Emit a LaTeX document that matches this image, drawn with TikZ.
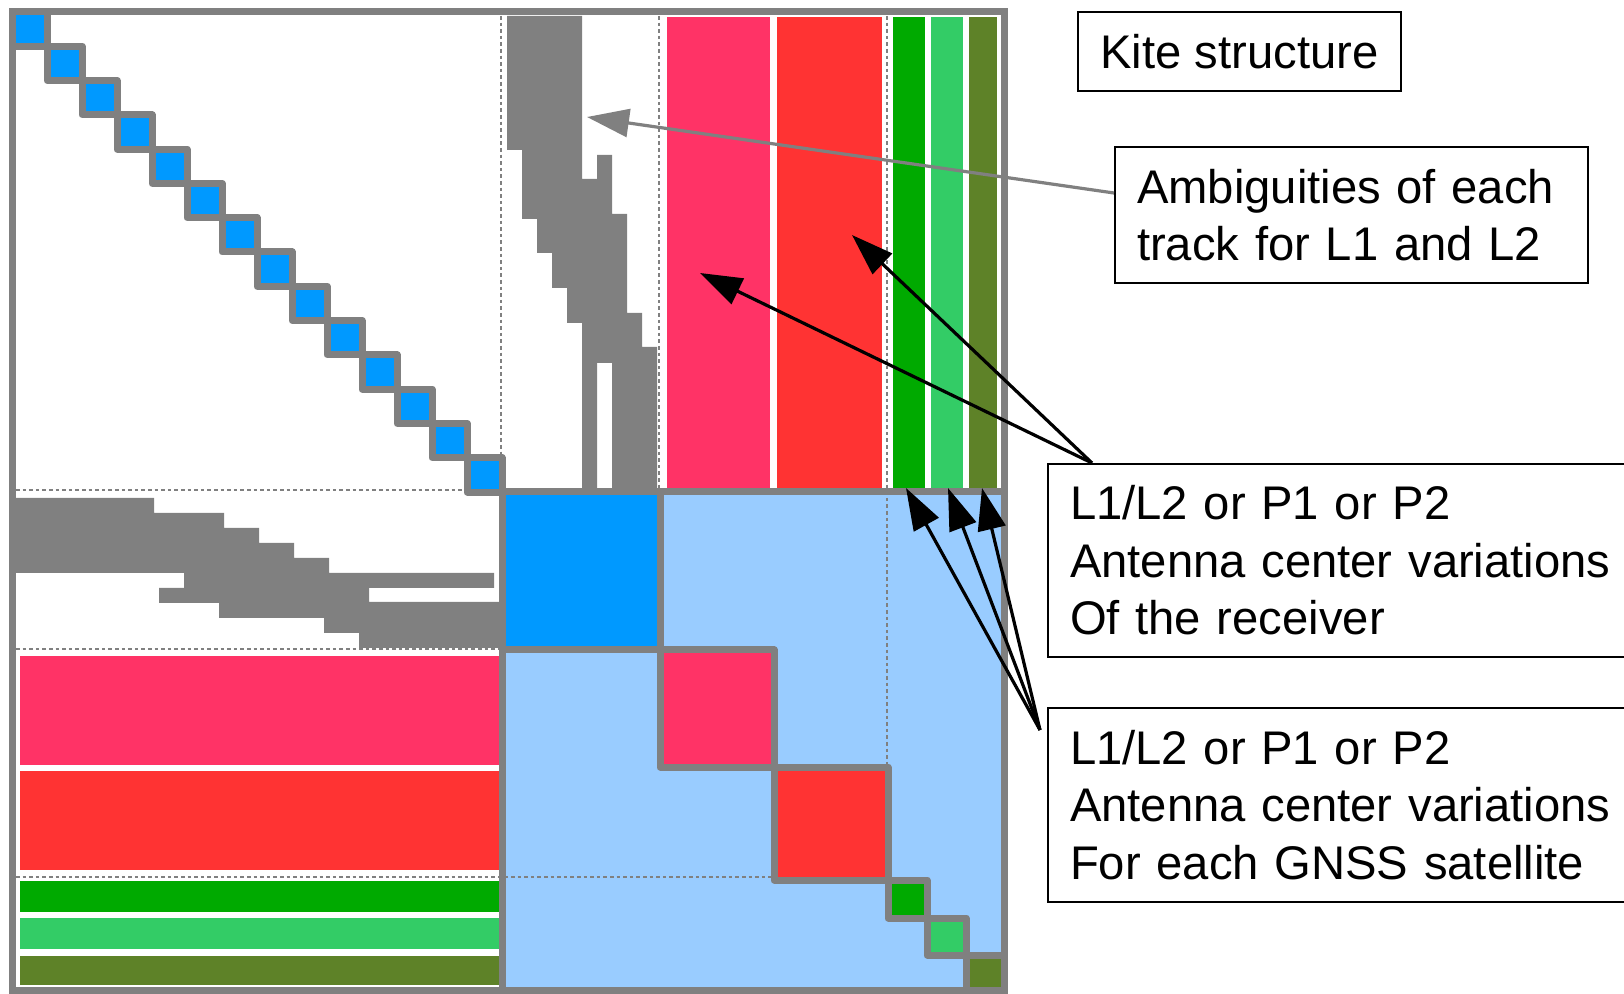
\documentclass[tikz,border=0pt]{standalone}
\usepackage{fontspec}
\setmainfont{Liberation Sans}
\usetikzlibrary{arrows.meta}
\definecolor{fgray}{HTML}{808080}
\definecolor{cblue}{HTML}{0099FF}
\definecolor{clblue}{HTML}{99CCFF}
\definecolor{cpink}{HTML}{FF3366}
\definecolor{cred}{HTML}{FF3333}
\definecolor{cgreen}{HTML}{00AA00}
\definecolor{clgreen}{HTML}{33CC66}
\definecolor{colive}{HTML}{5E8228}
\newcommand\lblfont{\fontsize{23.6pt}{28.75pt}\selectfont}
\begin{document}
\begin{tikzpicture}[x=0.5pt,y=-0.5pt,
  cell/.style={draw=fgray, line width=3.5pt, line join=round},
  band/.style={draw=white, line width=1pt},
  dotln/.style={draw=fgray, line width=1.2pt, dash pattern=on 1.8pt off 1.5pt},
  stair/.style={fill=fgray},
  lbl/.style={draw=black, line width=1pt, font=\lblfont, inner ysep=0pt, anchor=north west},
  arr/.style={line width=1.6pt, -{Triangle[length=21pt,width=14pt]}},
  garr/.style={draw=fgray, line width=1.6pt, -{Triangle[length=21pt,width=14pt]}}]
\useasboundingbox (0,0) rectangle (1624,994);
\clip (0,0) rectangle (1624,994);
\fill[white] (0,0) rectangle (1624,994);
\fill[white] (12,12) rectangle (1004,990);
% gray staircases
\fill[stair] (507,16) -- (582,16) -- (582,179) -- (597,179) -- (597,155) -- (612,155) -- (612,214) -- (627,214) -- (627,313) -- (642,313) -- (642,347) -- (657,347) -- (657,489) -- (612,489) -- (612,363) -- (597,363) -- (597,489) -- (582,489) -- (582,323) -- (567,323) -- (567,288) -- (552,288) -- (552,253) -- (537,253) -- (537,219) -- (522,219) -- (522,150) -- (507,150) -- cycle;
\fill[stair] (16,498) -- (154,498) -- (154,513) -- (224,513) -- (224,528) -- (259,528) -- (259,543) -- (294,543) -- (294,558) -- (329,558) -- (329,573) -- (494,573) -- (494,588) -- (369,588) -- (369,602) -- (500,602) -- (500,648) -- (359,648) -- (359,633) -- (324,633) -- (324,618) -- (219,618) -- (219,603) -- (159,603) -- (159,588) -- (184,588) -- (184,573) -- (16,573) -- cycle;
% column bands (top right)
\fill[cpink, band] (666,16) rectangle (771,491);
\fill[cred, band] (776,16) rectangle (883,491);
\fill[cgreen, band] (892,16) rectangle (926,491);
\fill[clgreen, band] (930,16) rectangle (964,491);
\fill[colive, band] (968,16) rectangle (998,491);
% row bands (bottom left)
\fill[cpink, band] (19,655) rectangle (500,766);
\fill[cred, band] (19,770) rectangle (500,871);
\fill[cgreen, band] (19,880) rectangle (500,913);
\fill[clgreen, band] (19,917) rectangle (500,950);
\fill[colive, band] (19,955) rectangle (500,986);
% lower right region
\draw[cell, fill=clblue] (502,492) rectangle (1004,990);
% dotted separators
\draw[dotln] (501,16) -- (501,492);
\draw[dotln] (16,490) -- (502,490);
\draw[dotln] (659,16) -- (659,492);
\draw[dotln] (16,649) -- (502,649);
\draw[dotln] (887,16) -- (887,767);
\draw[dotln] (16,877) -- (774,877);
% diagonal blocks lower right
\draw[cell, fill=cblue] (502,492) rectangle (660,650);
\draw[cell, fill=cpink] (660,650) rectangle (774,767);
\draw[cell, fill=cred] (774,767) rectangle (888,880);
\draw[cell, fill=cgreen] (888,880) rectangle (927,918);
\draw[cell, fill=clgreen] (927,918) rectangle (966,955);
\draw[cell, fill=colive] (966,955) rectangle (1004,990);
% small blocks top left
\foreach \k in {0,...,13}
  \draw[cell, fill=cblue] ({12+35*\k},{12+34.286*\k}) rectangle ({47+35*\k},{46.286+34.286*\k});
% frame
\draw[fgray, line width=3.5pt] (12,12) rectangle (1004,990);
% label boxes
\node[lbl, minimum width=161.5pt, minimum height=39.5pt, inner xsep=0pt, align=center] (kite) at (1077,11) {Kite structure};
\node[lbl, minimum height=68pt, inner xsep=11pt, text width=214.5pt, align=left] (amb) at (1114,146) {Ambiguities of each\\track for L1 and L2};
\node[lbl, minimum height=96.5pt, inner xsep=11pt, text width=298pt, align=left] (rec) at (1047,463) {L1/L2 or P1 or P2\\Antenna center variations\\Of the receiver};
\node[lbl, minimum height=97pt, inner xsep=11pt, text width=298pt, align=left] (sat) at (1047,707) {L1/L2 or P1 or P2\\Antenna center variations\\For each GNSS satellite};
% connectors
\coordinate (gstart) at ([yshift=-23.5pt]amb.north west);
\coordinate (gtip) at (587,117);
\coordinate (rstart) at ([xshift=22.5pt]rec.north west);
\coordinate (tipA) at (700,273);
\coordinate (tipB) at (852,235);
\coordinate (sstart) at ([xshift=-3.5pt,yshift=-11.5pt]sat.north west);
\coordinate (tipC) at (906,488);
\coordinate (tipD) at (948,488);
\coordinate (tipE) at (982,488);
\draw[garr] (gstart) -- (gtip);
\draw[arr] (rstart) -- (tipA);
\draw[arr] (rstart) -- (tipB);
\draw[arr] (sstart) -- (tipC);
\draw[arr] (sstart) -- (tipD);
\draw[arr] (sstart) -- (tipE);
\end{tikzpicture}
\end{document}
